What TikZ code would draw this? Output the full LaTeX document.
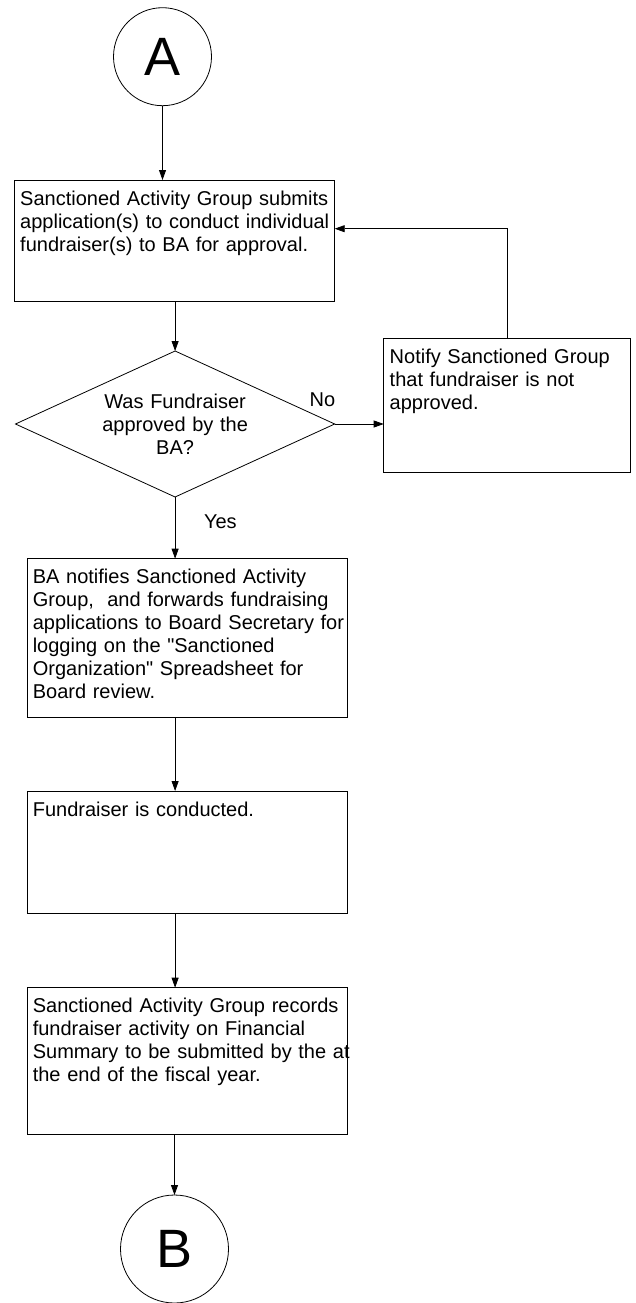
\documentclass[tikz,border=0pt]{standalone}
\usepackage{fontspec}
\setmainfont{Liberation Sans}[Ligatures=TeXOff]
\usetikzlibrary{shapes.geometric,arrows.meta}
\begin{document}
\begin{tikzpicture}[x=1pt,y=-1pt,
  every node/.style={font=\fontsize{20}{23}\selectfont, inner sep=0pt, outer sep=0pt},
  proc/.style={draw, rectangle, anchor=north west, line width=0.8pt},
  lbl/.style={anchor=base west, text width=400pt, align=left},
  conn/.style={circle, draw, line width=0.8pt, font=\fontsize{54}{60}\selectfont},
  arr/.style={line width=0.8pt, -{Triangle[length=10pt,width=7pt]}},
]
\useasboundingbox (0,0) rectangle (636,1303);

% connectors A / B
\node[conn, minimum size=98pt] (A) at (162.5,56.7) {A};
\node[conn, minimum size=108pt] (B) at (174.5,1249) {B};

% box 1
\node[proc, minimum width=320pt, minimum height=121.7pt] (b1) at (14.7,180) {};
\node[lbl] (t1) at (20.2,205) {Sanctioned Activity Group submits\\application(s) to conduct individual\\fundraiser(s) to BA for approval.};

% decision
\node[diamond, draw, line width=0.8pt, minimum width=319.2pt, minimum height=146pt] (d) at (175.1,424) {};
\node[anchor=base, text width=250pt, align=center] (dt) at (175.1,408) {Was Fundraiser\\approved by the\\BA?};

% notify
\node[proc, minimum width=247pt, minimum height=134.4pt] (n) at (383.7,338.3) {};
\node[lbl] (tn) at (389.7,363.3) {Notify Sanctioned Group\\that fundraiser is not\\approved.};

% box 2
\node[proc, minimum width=320pt, minimum height=158.6pt] (b2) at (27.3,558.7) {};
\node[lbl] (t2) at (32.8,583.7) {BA notifies Sanctioned Activity\\Group,\ \ and forwards fundraising\\applications to Board Secretary for\\logging on the "Sanctioned\\Organization" Spreadsheet for\\Board review.};

% box 3
\node[proc, minimum width=320pt, minimum height=122.3pt] (b3) at (27.3,791) {};
\node[lbl] (t3) at (32.8,816) {Fundraiser is conducted.};

% box 4
\node[proc, minimum width=320pt, minimum height=146.3pt] (b4) at (27.3,987.7) {};
\node[lbl] (t4) at (32.8,1012.7) {Sanctioned Activity Group records\\fundraiser activity on Financial\\Summary to be submitted by the at\\the end of the fiscal year.};

% labels
\node[anchor=base] (no) at (322.4,406.3) {No};
\node[anchor=base] (yes) at (220.4,528.7) {Yes};

% arrows
\draw[arr] (A.south) -- (A.south |- b1.north);
\draw[arr] (d.north |- b1.south) -- (d.north);
\draw[arr] (d.east) -- (d.east -| n.west);
\draw[arr] (n.north) |- ([yshift=-48.7pt]b1.north east);
\draw[arr] (d.south) -- (d.south |- b2.north);
\draw[arr] (d.south |- b2.south) -- (d.south |- b3.north);
\draw[arr] (d.south |- b3.south) -- (d.south |- b4.north);
\draw[arr] (B.north |- b4.south) -- (B.north);
\end{tikzpicture}
\end{document}
